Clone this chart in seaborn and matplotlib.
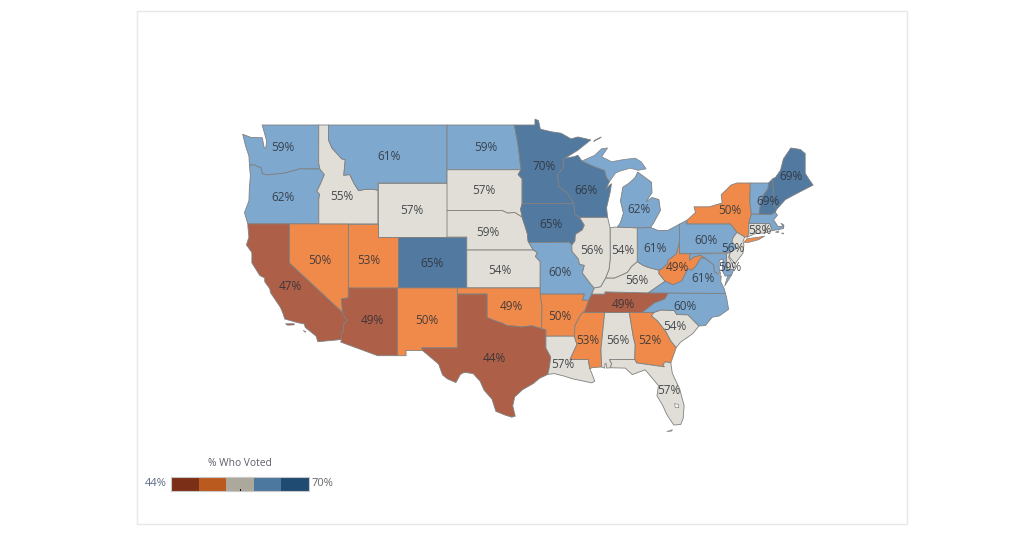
"""
Choropleth of voter turnout by state, outlines in lon/lat on a mercator axis
"""

import numpy as np
import seaborn as sns
import matplotlib.pyplot as plt
from matplotlib.colors import ListedColormap
from matplotlib.patches import Rectangle

# turnout labels and colour class (0 = lowest, 4 = highest)
voted = {
    'WA': 59, 'OR': 62, 'CA': 47, 'NV': 50, 'ID': 55, 'MT': 61, 'WY': 57, 'UT': 53, 'CO': 65, 'AZ': 49,
    'NM': 50, 'ND': 59, 'SD': 57, 'NE': 59, 'KS': 54, 'OK': 49, 'TX': 44, 'MN': 70, 'IA': 65, 'MO': 60,
    'AR': 50, 'LA': 57, 'MS': 53, 'AL': 56, 'GA': 52, 'FL': 57, 'SC': 54, 'NC': 60, 'TN': 49, 'KY': 56,
    'WV': 49, 'VA': 61, 'OH': 61, 'IN': 54, 'IL': 56, 'WI': 66, 'MI': 62, 'PA': 60, 'NY': 50, 'NJ': 56,
    'DE': 59, 'CT': 58, 'ME': 69, 'NH': 69,
}
voted_class = {
    'WA': 3, 'OR': 3, 'CA': 0, 'NV': 1, 'ID': 2, 'MT': 3, 'WY': 2, 'UT': 1, 'CO': 4, 'AZ': 0,
    'NM': 1, 'ND': 3, 'SD': 2, 'NE': 2, 'KS': 2, 'OK': 1, 'TX': 0, 'MN': 4, 'IA': 4, 'MO': 3,
    'AR': 1, 'LA': 2, 'MS': 1, 'AL': 2, 'GA': 1, 'FL': 2, 'SC': 2, 'NC': 3, 'TN': 0, 'KY': 2,
    'WV': 1, 'VA': 3, 'OH': 3, 'IN': 2, 'IL': 2, 'WI': 4, 'MI': 3, 'PA': 3, 'NY': 1, 'NJ': 2,
    'DE': 2, 'CT': 2, 'ME': 4, 'NH': 4, 'VT': 3, 'MA': 3, 'RI': 2, 'MD': 3,
}

# label centres in picture pixels
label_px = {
    'WA': (283, 148), 'OR': (283, 198), 'CA': (290, 286), 'NV': (320, 261), 'ID': (342, 196), 'MT': (389, 156),
    'WY': (412, 211), 'UT': (369, 261), 'CO': (432, 264), 'AZ': (372, 320), 'NM': (427, 320), 'ND': (486, 148),
    'SD': (484, 191), 'NE': (488, 232), 'KS': (500, 270), 'OK': (511, 307), 'TX': (494, 358), 'MN': (544, 166),
    'IA': (551, 224), 'MO': (560, 273), 'AR': (560, 317), 'LA': (563, 365), 'MS': (588, 340), 'AL': (618, 340),
    'GA': (650, 340), 'FL': (669, 390), 'SC': (675, 326), 'NC': (685, 307), 'TN': (623, 304), 'KY': (637, 280),
    'WV': (677, 268), 'VA': (703, 279), 'OH': (655, 248), 'IN': (623, 251), 'IL': (592, 251), 'WI': (586, 190),
    'MI': (639, 210), 'PA': (706, 240), 'NY': (730, 211), 'NJ': (733, 249), 'DE': (730, 268), 'CT': (760, 230),
    'ME': (791, 177), 'NH': (768, 202),
}

# state outlines, (lon, lat)
WA = [(-122.76,49),(-117.03,49),(-117.04,46.42),(-116.92,45.99),(-118.98,46.0),(-119.3,45.93),(-120.5,45.7),(-121.2,45.65),(-122.2,45.58),(-122.75,45.65),(-122.9,46.1),(-123.2,46.15),(-123.5,46.27),(-124.05,46.27),(-124.1,46.9),(-124.4,47.5),(-124.73,48.38),(-123.9,48.17),(-123.1,48.15),(-122.75,48.15),(-122.55,47.45),(-122.4,47.45),(-122.3,47.9),(-122.5,48.4)]
OR = [(-124.05,46.27),(-123.5,46.27),(-123.2,46.15),(-122.9,46.1),(-122.75,45.65),(-122.2,45.58),(-121.2,45.65),(-120.5,45.7),(-119.3,45.93),(-118.98,46.0),(-116.92,45.99),(-116.46,45.6),(-116.85,44.95),(-117.22,44.4),(-116.95,44.2),(-117.03,43.8),(-117.03,42),(-124.21,42),(-124.55,42.84),(-124.1,43.7),(-124.05,44.7),(-123.95,45.5)]
CA = [(-124.21,42),(-120,42),(-120,39),(-114.63,35),(-114.57,34.8),(-114.14,34.3),(-114.43,34.1),(-114.53,33.9),(-114.5,33.4),(-114.72,33.4),(-114.72,32.72),(-117.12,32.53),(-117.3,33.0),(-118.4,33.75),(-118.5,34.03),(-119.2,34.15),(-120.47,34.45),(-120.65,34.9),(-120.9,35.4),(-121.9,36.6),(-122.0,36.95),(-122.5,37.5),(-122.5,37.8),(-123.0,38.0),(-123.8,39.0),(-123.8,39.8),(-124.35,40.4),(-124.1,41.0),(-124.2,41.75)]
NV = [(-120,42),(-114.04,42),(-114.04,36.2),(-114.74,36.1),(-114.63,35),(-120,39)]
ID = [(-117.03,49),(-116.05,49),(-116.05,48.0),(-115.7,47.45),(-114.7,46.7),(-114.35,46.65),(-114.5,45.55),(-113.9,45.6),(-113.45,44.95),(-113.0,44.45),(-112.3,44.55),(-111.5,44.55),(-111.05,44.48),(-111.05,42),(-117.03,42),(-117.03,43.8),(-116.95,44.2),(-117.22,44.4),(-116.85,44.95),(-116.46,45.6),(-116.92,45.99),(-117.04,46.42)]
MT = [(-116.05,49),(-104.05,49),(-104.05,45),(-111.05,45),(-111.05,44.48),(-111.5,44.55),(-112.3,44.55),(-113,44.45),(-113.45,44.95),(-113.9,45.6),(-114.5,45.55),(-114.35,46.65),(-114.7,46.7),(-115.7,47.45),(-116.05,48)]
WY = [(-111.05,45),(-104.05,45),(-104.05,41),(-111.05,41)]
UT = [(-114.04,42),(-111.05,42),(-111.05,41),(-109.05,41),(-109.05,37),(-114.04,37)]
CO = [(-109.05,41),(-102.05,41),(-102.05,37),(-109.05,37)]
AZ = [(-114.04,37),(-109.05,37),(-109.05,31.33),(-111.07,31.33),(-114.81,32.5),(-114.72,32.72),(-114.72,33.4),(-114.5,33.4),(-114.53,33.9),(-114.43,34.1),(-114.14,34.3),(-114.57,34.8),(-114.63,35),(-114.74,36.1),(-114.04,36.2)]
NM = [(-109.05,37),(-103,37),(-103,32),(-106.62,32),(-106.53,31.78),(-108.2,31.78),(-108.2,31.33),(-109.05,31.33)]
ND = [(-104.05,49),(-97.23,49),(-96.85,47.6),(-96.56,45.94),(-104.05,45.94)]
SD = [(-104.05,45.94),(-96.56,45.94),(-96.85,45.6),(-96.45,45.3),(-96.45,43.5),(-96.6,43.1),(-96.45,42.5),(-97.2,42.85),(-97.9,42.8),(-98.5,43),(-104.05,43)]
NE = [(-104.05,43),(-98.5,43),(-97.9,42.8),(-97.2,42.85),(-96.45,42.5),(-96.1,41.7),(-95.9,41.2),(-95.85,40.7),(-95.31,40),(-102.05,40),(-102.05,41),(-104.05,41)]
KS = [(-102.05,40),(-95.31,40),(-94.9,39.8),(-95.1,39.5),(-94.61,39.1),(-94.62,37),(-102.05,37)]
OK = [(-103,37),(-94.62,37),(-94.43,35.4),(-94.48,33.64),(-95.5,33.88),(-96.5,33.77),(-97.2,33.85),(-97.95,33.88),(-98.5,34.1),(-99.2,34.3),(-100,34.56),(-100,36.5),(-103,36.5)]
TX = [(-103,36.5),(-100,36.5),(-100,34.56),(-99.2,34.3),(-98.5,34.1),(-97.95,33.88),(-97.2,33.85),(-96.5,33.77),(-95.5,33.88),(-94.48,33.64),(-94.04,33.55),(-94.04,33.0),(-94.04,32),(-93.55,31.2),(-93.7,30.3),(-93.85,29.7),(-94.7,29.35),(-95.3,28.9),(-96.4,28.35),(-97.2,27.7),(-97.4,26.9),(-97.15,25.96),(-97.5,25.87),(-98.2,26.07),(-99.1,26.4),(-99.5,27.5),(-100.3,28.3),(-100.7,29.1),(-101.4,29.77),(-102.3,29.88),(-102.7,29.7),(-103.15,28.98),(-104.0,29.3),(-104.5,29.65),(-104.9,30.6),(-106.0,31.4),(-106.53,31.78),(-106.62,32),(-103,32)]
MN = [(-97.23,49),(-95.15,49),(-95.15,49.38),(-94.8,49.3),(-94.6,48.72),(-93.5,48.55),(-92.5,48.45),(-91.5,48.07),(-90.8,48.2),(-89.5,48.0),(-90.8,47.3),(-92.1,46.75),(-92.3,46.65),(-92.29,46.07),(-92.85,45.6),(-92.75,44.75),(-91.9,44.3),(-91.22,43.5),(-96.45,43.5),(-96.45,45.3),(-96.85,45.6),(-96.56,45.94),(-96.85,47.6)]
IA = [(-96.45,43.5),(-91.22,43.5),(-91.1,42.7),(-90.65,42.5),(-90.15,41.9),(-90.35,41.55),(-91.05,41.2),(-91.1,40.7),(-91.42,40.38),(-91.7,40.6),(-95.77,40.58),(-95.85,40.7),(-95.9,41.2),(-96.1,41.7),(-96.45,42.5),(-96.6,43.1)]
MO = [(-95.77,40.58),(-91.7,40.6),(-91.42,40.38),(-91.4,39.9),(-90.75,39.3),(-90.65,38.9),(-90.15,38.8),(-90.35,38.2),(-89.5,37.3),(-89.15,37.0),(-89.4,36.5),(-89.7,36.0),(-90.37,36.0),(-90.15,36.5),(-94.62,36.5),(-94.62,39.1),(-95.1,39.5),(-94.9,39.8),(-95.31,40)]
AR = [(-94.62,36.5),(-90.15,36.5),(-90.37,36.0),(-89.7,36.0),(-90.1,35.1),(-90.6,34.7),(-91.1,33.9),(-91.17,33.0),(-94.04,33.0),(-94.04,33.55),(-94.48,33.64),(-94.43,35.4)]
LA = [(-94.04,33),(-91.17,33),(-90.9,32.3),(-91.6,31.0),(-89.75,31.0),(-89.6,30.2),(-89.4,29.8),(-89.1,29.1),(-89.4,28.95),(-90.2,29.1),(-91.3,29.3),(-92.2,29.55),(-93.2,29.77),(-93.85,29.7),(-93.7,30.3),(-93.55,31.2),(-94.04,32)]
MS = [(-91.17,33),(-91.1,33.9),(-90.6,34.7),(-90.3,35.0),(-88.2,35.0),(-88.1,34.9),(-88.47,31.9),(-88.4,30.35),(-89.3,30.3),(-89.6,30.2),(-89.75,31),(-91.6,31),(-90.9,32.3)]
AL = [(-88.2,35),(-85.6,34.98),(-85.18,32.87),(-85.0,32.3),(-85.05,31.0),(-87.6,31),(-87.4,30.65),(-87.5,30.28),(-87.9,30.25),(-87.95,30.65),(-88.05,30.65),(-88.1,30.25),(-88.4,30.35),(-88.47,31.9),(-88.1,34.9)]
GA = [(-85.6,34.98),(-83.1,35),(-83.35,34.7),(-82.75,34.3),(-81.9,33.4),(-81.4,32.6),(-80.85,32.03),(-81.4,30.7),(-81.95,30.8),(-82.2,30.55),(-82.05,30.36),(-84.86,30.7),(-85.05,31),(-85,32.3),(-85.18,32.87)]
FL = [(-87.6,31),(-85.05,31),(-84.86,30.7),(-82.05,30.36),(-82.2,30.55),(-81.95,30.8),(-81.4,30.7),(-81.25,29.8),(-80.5,28.4),(-80.05,26.9),(-80.15,25.75),(-80.4,25.2),(-81.1,25.15),(-81.8,26.1),(-82.2,26.9),(-82.8,27.8),(-82.65,28.7),(-83.4,29.5),(-84.0,30.1),(-85.3,29.68),(-86.0,30.25),(-87.5,30.28),(-87.4,30.65)]
TN = [(-89.7,36),(-89.4,36.5),(-88.07,36.5),(-88.07,36.68),(-83.68,36.6),(-81.68,36.59),(-82.0,36.12),(-83.1,35.77),(-84.3,35.0),(-85.6,34.98),(-90.3,35),(-90.1,35.1)]
KY = [(-89.4,36.5),(-89.15,37.0),(-88.5,37.1),(-88.0,37.8),(-87.1,37.8),(-86.5,38.0),(-85.8,38.25),(-85.4,38.7),(-84.8,39.1),(-84.2,38.8),(-83.7,38.65),(-82.6,38.42),(-82.6,38.15),(-81.97,37.54),(-83.68,36.6),(-88.07,36.68),(-88.07,36.5)]
IL = [(-90.65,42.5),(-87.8,42.5),(-87.55,41.7),(-87.53,39.35),(-87.65,38.5),(-88,37.8),(-88.5,37.1),(-89.15,37.0),(-89.5,37.3),(-90.35,38.2),(-90.15,38.8),(-90.65,38.9),(-90.75,39.3),(-91.4,39.9),(-91.42,40.38),(-91.1,40.7),(-91.05,41.2),(-90.35,41.55),(-90.15,41.9)]
IN = [(-87.55,41.7),(-87.2,41.75),(-86.8,41.76),(-84.8,41.7),(-84.8,39.1),(-85.4,38.7),(-85.8,38.25),(-86.5,38),(-87.1,37.8),(-88,37.8),(-87.65,38.5),(-87.53,39.35)]
OH = [(-84.8,41.7),(-83.45,41.73),(-82.7,41.5),(-81.7,41.5),(-80.52,41.98),(-80.52,40.64),(-80.85,39.7),(-81.7,39.2),(-81.75,38.95),(-82.2,38.6),(-82.6,38.42),(-83.7,38.65),(-84.2,38.8),(-84.8,39.1)]
MI = [(-86.8,41.76),(-84.8,41.7),(-83.45,41.73),(-83.15,42.05),(-82.45,43.0),(-82.6,43.8),(-83.3,43.95),(-83.9,43.65),(-83.3,44.3),(-83.35,45.05),(-84.75,45.78),(-85.0,45.4),(-85.6,45.0),(-86.25,44.7),(-86.5,43.7),(-86.2,42.8),(-86.5,42.1)]
WI = [(-92.29,46.07),(-92.3,46.65),(-92.1,46.75),(-91.2,46.85),(-90.8,46.95),(-90.4,46.55),(-89.1,46.15),(-88.1,45.9),(-87.9,45.4),(-87.6,45.1),(-87.95,44.6),(-87.4,44.95),(-87.55,44.3),(-87.9,43.2),(-87.8,42.5),(-90.65,42.5),(-91.1,42.7),(-91.22,43.5),(-91.9,44.3),(-92.75,44.75),(-92.85,45.6)]
PA = [(-80.52,41.98),(-79.76,42.27),(-79.76,42),(-75.35,42),(-74.7,41.36),(-75.1,40.95),(-75.2,40.65),(-74.72,40.15),(-75.4,39.8),(-80.52,39.72),(-80.52,40.64)]
NY = [(-79.76,42.27),(-78.9,42.85),(-79.05,43.27),(-77.5,43.27),(-76.2,43.55),(-76.3,44.15),(-75.3,44.85),(-74.7,45.0),(-73.35,45.0),(-73.4,43.6),(-73.25,42.75),(-73.5,42.05),(-73.5,41.3),(-73.65,41.0),(-73.92,41.0),(-74.7,41.36),(-75.35,42),(-79.76,42)]
NJ = [(-74.7,41.36),(-73.92,41),(-74.1,40.65),(-74.0,40.4),(-74.1,39.75),(-74.9,38.93),(-75.5,39.5),(-75.4,39.8),(-74.72,40.15),(-75.2,40.65),(-75.1,40.95)]
DE = [(-75.79,39.72),(-75.4,39.8),(-75.55,39.45),(-75.1,38.8),(-75.05,38.45),(-75.7,38.46)]
MD = [(-79.48,39.72),(-75.79,39.72),(-75.7,38.46),(-75.05,38.45),(-75.25,38.03),(-75.9,37.95),(-76.2,38.4),(-76.1,39.3),(-76.5,39.2),(-76.5,38.5),(-76.35,38.1),(-77.0,38.3),(-77.05,38.85),(-77.5,39.1),(-77.8,39.3),(-78.4,39.6),(-79.1,39.45),(-79.48,39.2)]
VA = [(-83.68,36.6),(-81.68,36.59),(-75.87,36.55),(-76.0,36.95),(-76.35,37.5),(-76.3,37.95),(-76.95,38.25),(-77.05,38.85),(-77.5,39.1),(-77.8,39.3),(-78.35,39.4),(-78.85,38.75),(-79.3,38.4),(-79.65,38.55),(-80.3,37.55),(-81.2,37.25),(-81.97,37.54)]
WV = [(-82.6,38.42),(-82.2,38.6),(-81.75,38.95),(-81.7,39.2),(-80.85,39.7),(-80.52,40.64),(-80.52,39.72),(-79.48,39.72),(-79.48,39.2),(-79.1,39.45),(-78.4,39.6),(-77.8,39.3),(-78.35,39.4),(-78.85,38.75),(-79.3,38.4),(-79.65,38.55),(-80.3,37.55),(-81.2,37.25),(-81.97,37.54),(-82.6,38.15)]
NC = [(-84.32,34.99),(-83.1,35),(-82.4,35.2),(-81.05,35.15),(-80.8,34.82),(-79.67,34.8),(-78.55,33.86),(-77.9,33.9),(-77.2,34.6),(-76.5,34.7),(-75.55,35.25),(-75.75,36.2),(-75.87,36.55),(-81.68,36.59),(-82,36.12),(-83.1,35.77)]
SC = [(-83.1,35),(-82.4,35.2),(-81.05,35.15),(-80.8,34.82),(-79.67,34.8),(-78.55,33.86),(-79.2,33.2),(-80.4,32.5),(-80.85,32.03),(-81.4,32.6),(-81.9,33.4),(-82.75,34.3),(-83.35,34.7)]
ME = [(-71.08,45.3),(-70.8,45.4),(-70.3,45.9),(-70.0,46.7),(-69.25,47.45),(-68.3,47.35),(-67.8,47.07),(-67.8,45.7),(-67.45,45.3),(-67.0,44.85),(-68.5,44.3),(-69.8,43.8),(-70.7,43.07),(-70.98,43.4)]
NH = [(-71.5,45.0),(-71.08,45.3),(-70.98,43.4),(-70.7,43.07),(-70.82,42.87),(-71.3,42.7),(-72.46,42.73),(-72.3,43.6),(-72.05,44.1),(-71.55,44.6)]
VT = [(-73.35,45),(-71.5,45),(-71.55,44.6),(-72.05,44.1),(-72.3,43.6),(-72.46,42.73),(-73.25,42.75),(-73.4,43.6)]
MA = [(-73.5,42.05),(-73.25,42.75),(-72.46,42.73),(-71.3,42.7),(-70.82,42.87),(-70.6,42.65),(-71.0,42.3),(-70.55,41.8),(-70.0,41.8),(-70.25,42.05),(-69.95,41.9),(-70.0,41.65),(-70.65,41.55),(-71.12,41.5),(-71.38,42.02),(-71.8,42.02)]
RI = [(-71.8,42.02),(-71.38,42.02),(-71.12,41.5),(-71.85,41.32)]
CT = [(-73.5,42.05),(-71.8,42.02),(-71.85,41.32),(-72.9,41.25),(-73.65,41.0),(-73.5,41.3)]

outlines = {
    'WA': WA, 'OR': OR, 'CA': CA, 'NV': NV, 'ID': ID, 'MT': MT, 'WY': WY, 'UT': UT, 'CO': CO, 'AZ': AZ,
    'NM': NM, 'ND': ND, 'SD': SD, 'NE': NE, 'KS': KS, 'OK': OK, 'TX': TX, 'MN': MN, 'IA': IA, 'MO': MO,
    'AR': AR, 'LA': LA, 'MS': MS, 'AL': AL, 'GA': GA, 'FL': FL, 'SC': SC, 'NC': NC, 'TN': TN, 'KY': KY,
    'WV': WV, 'VA': VA, 'OH': OH, 'IN': IN, 'IL': IL, 'WI': WI, 'MI': MI, 'PA': PA, 'NY': NY, 'NJ': NJ,
    'DE': DE, 'MD': MD, 'CT': CT, 'RI': RI, 'MA': MA, 'VT': VT, 'NH': NH, 'ME': ME,
}

# pieces that are separate from the main outline of a state
upper_michigan = [(-90.4,46.55),(-89.1,46.95),(-88.4,47.4),(-87.8,47.45),(-88.4,46.85),(-87.4,46.5),(-86.2,46.65),(-85.0,46.75),(-84.4,46.5),(-83.9,46.0),(-84.7,45.9),(-85.5,46.05),(-86.5,45.85),(-87.0,45.7),(-87.6,45.1),(-87.9,45.4),(-88.1,45.9),(-89.1,46.15)]
isle_royale = [(-89.2,47.9),(-88.5,48.15),(-88.45,48.2),(-89.1,47.98)]
long_island = [(-74.0,40.6),(-73.7,40.87),(-72.6,40.98),(-71.9,41.07),(-72.5,40.8),(-73.6,40.58)]
va_shore = [(-75.95,37.15),(-75.25,38.03),(-75.65,37.95)]
channel_islands = [(-120.4,34.05),(-119.5,34.05),(-119.55,33.95),(-120.2,33.93)]
catalina = [(-118.6,33.48),(-118.35,33.38),(-118.4,33.33)]
nantucket = [(-70.2,41.3),(-69.97,41.3),(-70.05,41.23)]
vineyard = [(-70.8,41.37),(-70.5,41.47),(-70.5,41.35)]
florida_keys = [(-81.8,24.55),(-81.25,24.72),(-81.3,24.6)]
outer_pieces = [('MI', upper_michigan), ('MI', isle_royale), ('NY', long_island), ('VA', va_shore),
                ('CA', channel_islands), ('CA', catalina), ('MA', nantucket), ('MA', vineyard),
                ('FL', florida_keys)]
okeechobee = [(-81.0,27.1),(-80.65,27.02),(-80.6,26.72),(-80.95,26.75)]

map_colors = ['#ad5f47', '#ef8a4a', '#e0ded6', '#7ea8ce', '#52799f']
legend_colors = ['#7b2f17', '#bb5a1e', '#aca99c', '#4c779e', '#1f4a71']
legend_classes = [[0, 1, 2, 3, 4]]
legend_title = '% Who Voted'
legend_low = '44%'
legend_high = '70%'

W, H = 1024, 537


def merc(lat):
    # mercator latitude, in degrees so that both axes share one scale
    return np.degrees(np.log(np.tan(np.radians(45 + np.asarray(lat) / 2))))


def draw_ring(ax, ring, color, edge='#808080', lw=0.6):
    lon, lat = zip(*ring)
    ax.fill(lon, merc(lat), facecolor=color, edgecolor=edge, linewidth=lw, joinstyle='round', zorder=2)


sns.set_style('white')
plt.rcParams['font.family'] = ['Open Sans', 'DejaVu Sans']

fig = plt.figure(figsize=(W / 100, H / 100), dpi=100, facecolor='white')
ax = fig.add_axes([0, 0, 1, 1])
ax.set_axis_off()

# 9.88 pixels per degree, WA tip at x=243, 49N at y=125
scale = 9.88
ax.set_xlim(-124.7 - 243 / scale, -124.7 + (W - 243) / scale)
ax.set_ylim(merc(49) - (H - 125) / scale, merc(49) + 125 / scale)

# dashboard card
fig.add_artist(Rectangle((137 / W, 1 - 524 / H), 770 / W, 513 / H, transform=fig.transFigure,
                         facecolor='none', edgecolor='#e8e8e8', linewidth=1))

for state, ring in outlines.items():
    draw_ring(ax, ring, map_colors[voted_class[state]])
for state, ring in outer_pieces:
    draw_ring(ax, ring, map_colors[voted_class[state]], lw=0.5)
draw_ring(ax, okeechobee, 'white', lw=0.5)

for state, value in voted.items():
    px, py = label_px[state]
    ax.text(px / W, 1 - py / H, '{}%'.format(value), transform=ax.transAxes, ha='center', va='center',
            fontsize=8.5, color='#2b2f36', alpha=0.85, zorder=5)

# legend
lax = fig.add_axes([171 / W, 1 - 491 / H, 138 / W, 14 / H])
sns.heatmap(legend_classes, ax=lax, cmap=ListedColormap(legend_colors), cbar=False, vmin=-0.5, vmax=4.5,
            xticklabels=False, yticklabels=False, linewidths=0)
lax.plot([2.5, 2.5], [0.88, 1.0], color='black', linewidth=0.8, clip_on=False)
for side in lax.spines.values():
    side.set_visible(True)
    side.set_color('#c8c8c8')
    side.set_linewidth(0.8)

fig.text(240 / W, 1 - 464 / H, legend_title, ha='center', va='center', fontsize=7.4, color='#5f5f6e')
fig.text(167 / W, 1 - 483.5 / H, legend_low, ha='right', va='center', fontsize=8, color='#5b6a85')
fig.text(312 / W, 1 - 483.5 / H, legend_high, ha='left', va='center', fontsize=8, color='#666666')

fig.savefig('out.png', dpi=100)
